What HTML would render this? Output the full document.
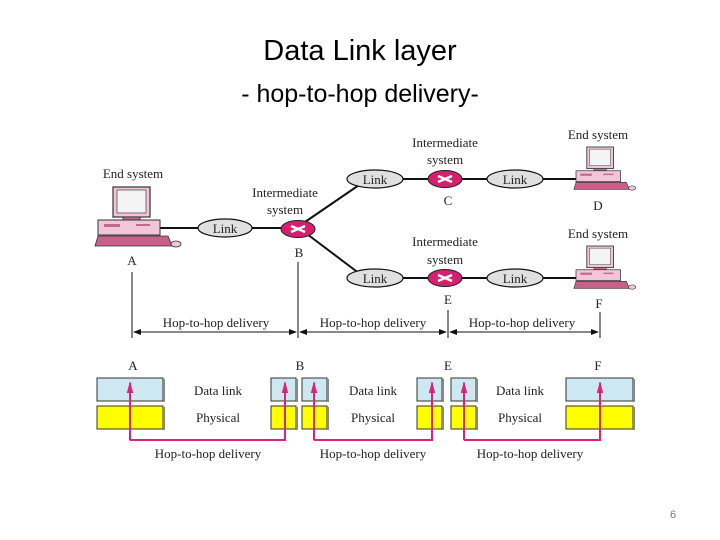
<!DOCTYPE html>
<html><head><meta charset="utf-8"><style>
body{margin:0;background:#fff;}
svg{display:block;}
.t{font-family:"Liberation Serif",serif;font-size:13px;fill:#222;}
</style></head><body>
<svg width="720" height="540" xmlns="http://www.w3.org/2000/svg">
<defs>
<g id="pc">
  <rect x="15" y="0" width="37" height="30" fill="#f2c6d8" stroke="#333" stroke-width="1.2"/>
  <rect x="19" y="3" width="29" height="23" fill="#f4f4f4" stroke="#555" stroke-width="0.8"/>
  <rect x="25" y="30" width="17" height="3" fill="#c06a90" stroke="#333" stroke-width="0.8"/>
  <rect x="0" y="33" width="62" height="15" fill="#f2c6d8" stroke="#333" stroke-width="1"/>
  <rect x="6" y="37" width="16" height="3" fill="#c06a90"/>
  <rect x="38" y="37" width="14" height="2" fill="#c06a90"/>
  <polygon points="0,49 70,49 74,59 -3,59" fill="#c8608a" stroke="#333" stroke-width="0.8"/>
  <ellipse cx="78" cy="57" rx="5" ry="3" fill="#f2c6d8" stroke="#333" stroke-width="0.8"/>
</g>
<g id="rt">
  <ellipse cx="0" cy="0" rx="17" ry="8.5" fill="#d4206e" stroke="#222" stroke-width="1"/>
  <path d="M-7,-3 L7,3 M-7,3 L7,-3" stroke="#fff" stroke-width="2.5"/>
</g>
<marker id="ah" markerWidth="8" markerHeight="8" refX="7" refY="4" orient="auto"><path d="M0,1 L8,4 L0,7 Z" fill="#111"/></marker>
<marker id="mh" markerUnits="userSpaceOnUse" markerWidth="12" markerHeight="8" refX="10" refY="4" orient="auto"><path d="M0,0.8 L12,4 L0,7.2 Z" fill="#d8247a"/></marker>
</defs>

<text x="360" y="60" text-anchor="middle" font-family="Liberation Sans, sans-serif" font-size="29" fill="#000">Data Link layer</text>
<text x="360" y="102" text-anchor="middle" font-family="Liberation Sans, sans-serif" font-size="25" fill="#000">- hop-to-hop delivery-</text>

<g stroke="#111" stroke-width="2" fill="none">
<line x1="160" y1="228" x2="285" y2="228"/>
<line x1="305" y1="222" x2="362" y2="183"/>
<line x1="307" y1="234" x2="360" y2="274"/>
<line x1="400" y1="179" x2="590" y2="179"/>
<line x1="400" y1="278" x2="590" y2="278"/>
</g>
<use href="#pc" x="98" y="187"/>
<use href="#pc" transform="translate(576,147) scale(0.72)"/>
<use href="#pc" transform="translate(576,246) scale(0.72)"/>
<g fill="#e0e0e0" stroke="#111" stroke-width="1.2">
<ellipse cx="225" cy="228" rx="27" ry="9"/>
<ellipse cx="375" cy="179" rx="28" ry="9"/>
<ellipse cx="515" cy="179" rx="28" ry="9"/>
<ellipse cx="375" cy="278" rx="28" ry="9"/>
<ellipse cx="515" cy="278" rx="28" ry="9"/>
</g>
<g class="t" text-anchor="middle">
<text x="225" y="233">Link</text><text x="375" y="184">Link</text><text x="515" y="184">Link</text>
<text x="375" y="283">Link</text><text x="515" y="283">Link</text>
</g>
<use href="#rt" x="298" y="229"/>
<use href="#rt" x="445" y="179"/>
<use href="#rt" x="445" y="278"/>
<g class="t" text-anchor="middle">
<text x="133" y="178">End system</text>
<text x="285" y="197">Intermediate</text><text x="285" y="214">system</text>
<text x="445" y="147">Intermediate</text><text x="445" y="164">system</text>
<text x="445" y="246">Intermediate</text><text x="445" y="264">system</text>
<text x="598" y="139">End system</text><text x="598" y="238">End system</text>
<text x="132" y="265">A</text><text x="299" y="257">B</text><text x="448" y="205">C</text>
<text x="598" y="210">D</text><text x="448" y="304">E</text><text x="599" y="308">F</text>
</g>
<g stroke="#111" stroke-width="1">
<line x1="132" y1="272" x2="132" y2="338"/>
<line x1="298" y1="262" x2="298" y2="338"/>
<line x1="448" y1="310" x2="448" y2="338"/>
<line x1="600" y1="312" x2="600" y2="338"/>
<line x1="134" y1="332" x2="296" y2="332" marker-end="url(#ah)"/>
<line x1="296" y1="332" x2="134" y2="332" marker-end="url(#ah)"/>
<line x1="300" y1="332" x2="446" y2="332" marker-end="url(#ah)"/>
<line x1="446" y1="332" x2="300" y2="332" marker-end="url(#ah)"/>
<line x1="450" y1="332" x2="598" y2="332" marker-end="url(#ah)"/>
<line x1="598" y1="332" x2="450" y2="332" marker-end="url(#ah)"/>
</g>
<g class="t" text-anchor="middle">
<text x="216" y="327">Hop-to-hop delivery</text>
<text x="373" y="327">Hop-to-hop delivery</text>
<text x="522" y="327">Hop-to-hop delivery</text>
</g>

<g class="t" text-anchor="middle">
<text x="133" y="370">A</text><text x="300" y="370">B</text><text x="448" y="370">E</text><text x="598" y="370">F</text>
</g>
<g stroke="#333" stroke-width="1">
<g fill="#cde8f0">
<rect x="97" y="378" width="66" height="23"/><rect x="271" y="378" width="25" height="23"/><rect x="302" y="378" width="25" height="23"/>
<rect x="417" y="378" width="25" height="23"/><rect x="451" y="378" width="25" height="23"/><rect x="566" y="378" width="67" height="23"/>
</g>
<g fill="#ffff00">
<rect x="97" y="406" width="66" height="23"/><rect x="271" y="406" width="25" height="23"/><rect x="302" y="406" width="25" height="23"/>
<rect x="417" y="406" width="25" height="23"/><rect x="451" y="406" width="25" height="23"/><rect x="566" y="406" width="67" height="23"/>
</g>
</g>
<g fill="none" stroke="#888" stroke-width="2">
<path d="M164,379 V402 M164,407 V430 M297,379 V402 M297,407 V430 M328,379 V402 M328,407 V430 M443,379 V402 M443,407 V430 M477,379 V402 M477,407 V430 M634,379 V402 M634,407 V430"/>
</g>
<g class="t" text-anchor="middle">
<text x="218" y="395">Data link</text><text x="218" y="422">Physical</text>
<text x="373" y="395">Data link</text><text x="373" y="422">Physical</text>
<text x="520" y="395">Data link</text><text x="520" y="422">Physical</text>
</g>
<g fill="none" stroke="#d8247a" stroke-width="2">
<path d="M130,440 H285 V383" marker-end="url(#mh)"/>
<path d="M130,440 V383" marker-end="url(#mh)"/>
<path d="M314,440 H432 V383" marker-end="url(#mh)"/>
<path d="M314,440 V383" marker-end="url(#mh)"/>
<path d="M464,440 H600 V383" marker-end="url(#mh)"/>
<path d="M464,440 V383" marker-end="url(#mh)"/>
</g>
<g class="t" text-anchor="middle">
<text x="208" y="458">Hop-to-hop delivery</text>
<text x="373" y="458">Hop-to-hop delivery</text>
<text x="530" y="458">Hop-to-hop delivery</text>
</g>
<text x="673" y="518" text-anchor="middle" font-family="Liberation Sans, sans-serif" font-size="11" fill="#777">6</text>
</svg>
</body></html>
